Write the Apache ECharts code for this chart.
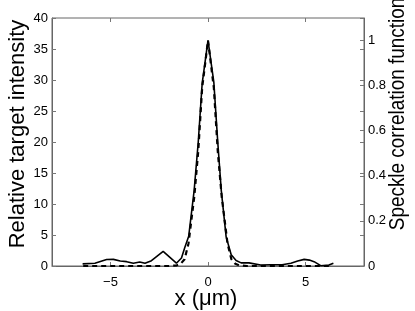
<!DOCTYPE html>
<html><head><meta charset="utf-8">
<script src="https://cdn.jsdelivr.net/npm/echarts@6/dist/echarts.min.js"></script>
<style>html,body{margin:0;padding:0;background:#fff}#c{width:415px;height:311px}</style>
</head><body><div id="c"></div>
<script>
var xTicks = [-5, 0, 5];
var intensityX = [-6.43,-5.8,-5.2,-4.85,-4.5,-4.17,-3.83,-3.5,-3.23,-2.9,-2.3,-1.62,-1.36,-1.19,-0.99,-0.71,-0.5,-0.3,0,0.3,0.5,0.68,0.93,1.19,1.44,1.7,2.1,2.7,3.2,3.8,4.25,4.6,4.93,5.2,5.44,5.78,6.2,6.43];
var intensityY = [0.35,0.45,1.05,1.07,0.8,0.7,0.45,0.65,0.45,0.85,2.35,0.45,1.3,3.0,4.8,12.2,20.0,29.4,36.4,29.6,20.0,12.2,4.7,1.8,0.9,0.5,0.5,0.15,0.2,0.2,0.45,0.8,1.07,0.95,0.7,0.05,0.15,0.45];
var corrX = [-6.4,-5.5,-4.5,-3.5,-2.5,-2.0,-1.6,-1.4,-1.2,-1.0,-0.7,-0.5,-0.3,0,0.3,0.5,0.7,1.0,1.2,1.4,1.6,2.0,2.5,3.5,4.5,5.5,6.4];
var corrY = [0,0,0,0,0,0,0.003,0.01,0.03,0.1,0.31,0.51,0.79,1.0,0.79,0.51,0.31,0.1,0.03,0.01,0.003,0,0,0,0,0,0];
var leftTitle = 'Relative target intensity';
var rightTitle = 'Speckle correlation function';
var xTitle = 'x (\u03bcm)';
function pairs(xs, ys){ return xs.map(function(x,i){return [x, ys[i]];}); }
var font = 'Liberation Sans, Arial, sans-serif';
var chart = echarts.init(document.getElementById('c'), null, {renderer:'canvas'});
var tickStyle = {show:true, inside:true, length:4, lineStyle:{color:'#777', width:1}};
chart.setOption({
  animation:false,
  grid:{left:52, right:51, top:18, bottom:45, show:true, borderColor:'#666', borderWidth:1, backgroundColor:'transparent'},
  graphic:[
    {type:'text', rotation:Math.PI/2, x:18, y:134,
      style:{text:leftTitle, font:'22px '+font, fill:'#000', textAlign:'center', textVerticalAlign:'middle'}},
    {type:'text', rotation:Math.PI/2, x:398, y:114, scaleX:0.86,
      style:{text:rightTitle, font:'22px '+font, fill:'#000', textAlign:'center', textVerticalAlign:'middle'}},
    {type:'text', x:206, y:299,
      style:{text:xTitle, font:'22px '+font, fill:'#000', textAlign:'center', textVerticalAlign:'middle'}}
  ],
  xAxis:[{
    type:'value', min:-8, max:8,
    axisLine:{show:true, onZero:false, lineStyle:{color:'#666'}},
    splitLine:{show:false},
    axisLabel:{fontFamily:font, fontSize:13, color:'#000', margin:10,
      customValues:xTicks, formatter:function(v){return v<0?'\u2212'+(-v):String(v);}},
    axisTick:{show:true, inside:true, length:4, customValues:xTicks, lineStyle:{color:'#777'}}
  },{
    type:'value', min:-8, max:8, position:'top',
    axisLine:{show:false, onZero:false}, axisLabel:{show:false, customValues:xTicks}, splitLine:{show:false},
    axisTick:{show:true, inside:true, length:4, customValues:xTicks, lineStyle:{color:'#777'}}
  }],
  yAxis:[{
    type:'value', min:0, max:40, interval:5, position:'left',
    axisLine:{show:true, onZero:false, lineStyle:{color:'#666'}},
    axisTick:tickStyle, splitLine:{show:false},
    axisLabel:{fontFamily:font, fontSize:13, color:'#000', margin:4}
  },{
    type:'value', min:0, max:1.1, interval:0.2, position:'right',
    axisLine:{show:true, onZero:false, lineStyle:{color:'#666'}},
    axisTick:tickStyle, splitLine:{show:false},
    axisLabel:{fontFamily:font, fontSize:13, color:'#000', margin:4, showMaxLabel:false,
      formatter:function(v){return v>1.05?'':String(+v.toFixed(1));}}
  },{
    type:'value', min:0, max:40, interval:5, position:'right',
    axisLine:{show:false, onZero:false}, axisLabel:{show:false}, splitLine:{show:false},
    axisTick:tickStyle
  }],
  series:[{
    type:'line', xAxisIndex:0, yAxisIndex:0, data:pairs(intensityX,intensityY),
    showSymbol:false, lineStyle:{color:'#000', width:1.6}, z:2
  },{
    type:'line', xAxisIndex:0, yAxisIndex:1, data:pairs(corrX,corrY),
    showSymbol:false, lineStyle:{color:'#000', width:2.2, type:[5,4]}, z:3
  }]
});
</script></body></html>
